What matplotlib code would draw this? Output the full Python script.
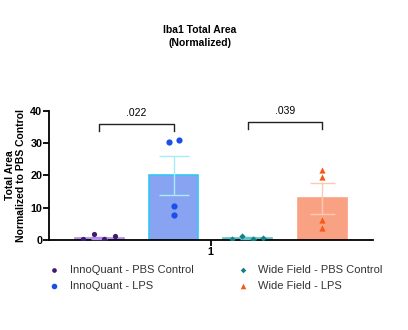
import numpy as np
import matplotlib
matplotlib.use("Agg")
import matplotlib.pyplot as plt

plt.rcParams['font.family'] = ['Liberation Sans', 'DejaVu Sans']

groups = ["InnoQuant - PBS Control", "InnoQuant - LPS",
          "Wide Field - PBS Control", "Wide Field - LPS"]
means = [0.8, 20.0, 0.7, 13.0]
sems = [0.3, 6.1, 0.2, 4.8]
points = [
    [0.4, 1.8, 0.4, 1.2],
    [30.4, 30.8, 10.5, 7.9],
    [0.5, 1.2, 0.5, 0.6],
    [21.6, 19.4, 6.2, 3.8],
]
# horizontal jitter of the dots as seen in the picture
jitter = [
    [-0.22, -0.074, 0.06, 0.21],
    [-0.067, 0.067, 0.0, 0.0],
    [-0.215, -0.08, 0.067, 0.2],
    [0.0, 0.0, 0.0, 0.0],
]
pvals = [".022", ".039"]
pairs = [(0, 1), (2, 3)]
bracket_y = [36.0, 36.6]

fills = ["#c8b2ea", "#88a3f2", "#5cc3c6", "#f9a283"]
edges = ["#b08ee6", "#33c6f2", "#5cc3c6", "#f9a283"]
errc = ["#b08ee6", "#a6ecf9", "#5cc3c6", "#fbc9b6"]
dotc = ["#3e1a74", "#1c4ee8", "#177f83", "#f45a16"]
markers = ["o", "o", "D", "^"]
msizes = [14, 20, 10, 20]
caps = [6, 11, 6, 9]

fig = plt.figure(figsize=(4.08, 3.30), dpi=100)
ax = fig.add_axes([0.121, 0.272, 0.792, 0.393])

x = np.arange(4)
for i in range(4):
    ax.bar(x[i], means[i], width=0.66, color=fills[i], edgecolor=edges[i],
           linewidth=1.2, zorder=2)
    ax.errorbar(x[i], means[i], yerr=sems[i], color=errc[i], capsize=caps[i],
                elinewidth=1.0, capthick=1.0, zorder=3)
    ax.scatter(x[i] + np.array(jitter[i]), points[i], s=msizes[i], color=dotc[i],
               marker=markers[i], zorder=4, label=groups[i], linewidths=0)

for (a, b), p, yb in zip(pairs, pvals, bracket_y):
    ax.plot([a, a, b, b], [yb - 2.2, yb, yb, yb - 2.2], color="#222222", lw=1.0)
    ax.text((a + b) / 2, yb + 1.8, p, ha="center", va="bottom", fontsize=7.5)

ax.set_xlim(-0.675, 3.68)
ax.set_ylim(0, 40)
ax.set_yticks([0, 10, 20, 30, 40])
ax.set_xticks([1.5])
ax.set_xticklabels(["1"])
for lab in ax.get_yticklabels() + ax.get_xticklabels():
    lab.set_fontweight("bold")
    lab.set_fontsize(7.8)
ax.spines["top"].set_visible(False)
ax.spines["right"].set_visible(False)
ax.spines["left"].set_linewidth(1.3)
ax.spines["bottom"].set_linewidth(1.3)
ax.tick_params(width=1.3, length=4, pad=1)
ax.set_ylabel("Total Area\nNormalized to PBS Control", fontsize=7.5,
              fontweight="bold", labelpad=3)

fig.text(0.49, 0.89, "Iba1 Total Area\n(Normalized)", ha="center", va="center",
         fontsize=7.5, fontweight="bold", linespacing=1.3)

fig.legend(loc="upper left", bbox_to_anchor=(0.09, 0.227), ncol=2, frameon=False,
           fontsize=8, handletextpad=0.67, columnspacing=3.76, labelspacing=0.55,
           markerscale=0.9, labelcolor="#333333", handlelength=1.4)

fig.savefig("out.png", dpi=100)
